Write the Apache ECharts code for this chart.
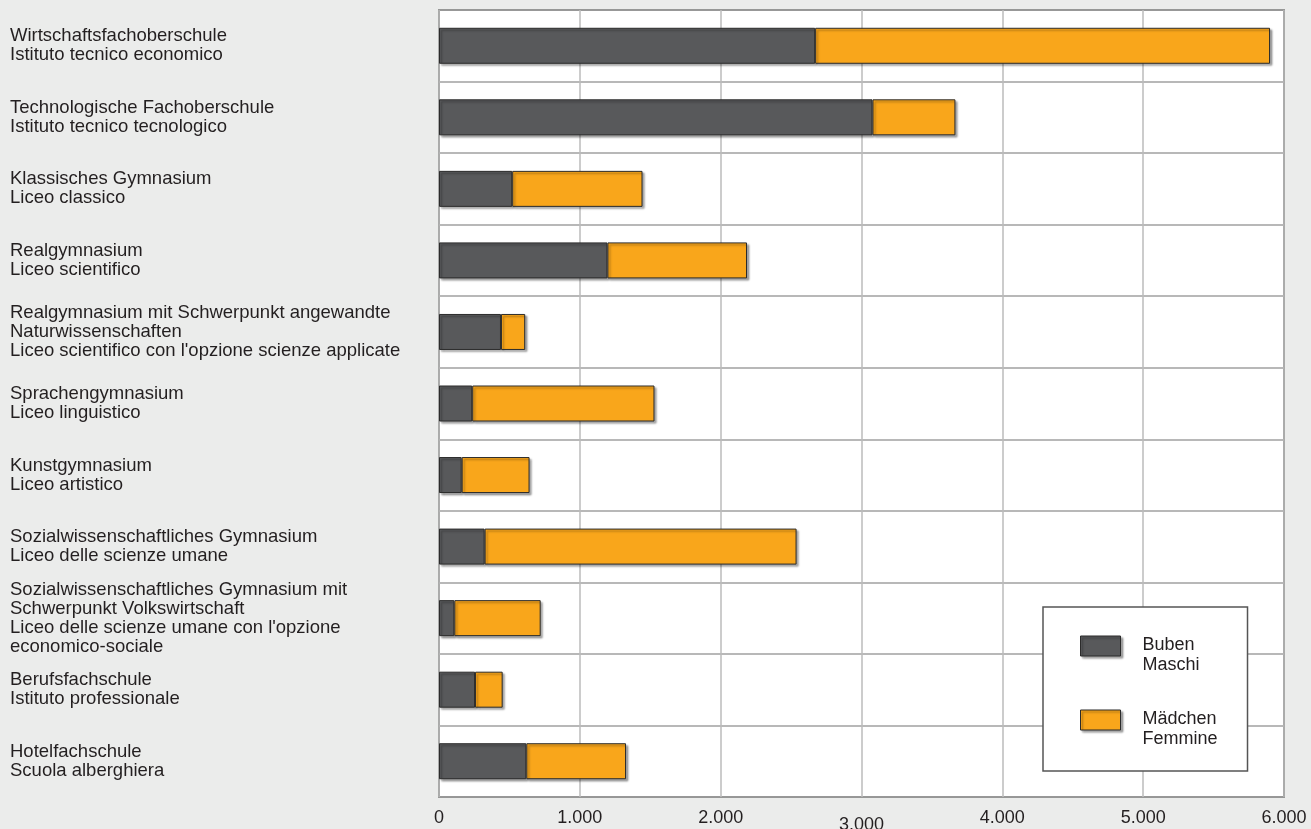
<!DOCTYPE html>
<html>
<head>
<meta charset="utf-8">
<script src="https://cdn.jsdelivr.net/npm/echarts@6/dist/echarts.min.js"></script>
<style>
html,body{margin:0;padding:0;background:#ebeceb;}
#chart{width:1311px;height:829px;}
</style>
</head>
<body>
<div id="chart"></div>
<script>
const categories = [
  "Wirtschaftsfachoberschule\nIstituto tecnico economico",
  "Technologische Fachoberschule\nIstituto tecnico tecnologico",
  "Klassisches Gymnasium\nLiceo classico",
  "Realgymnasium\nLiceo scientifico",
  "Realgymnasium mit Schwerpunkt angewandte\nNaturwissenschaften\nLiceo scientifico con l'opzione scienze applicate",
  "Sprachengymnasium\nLiceo linguistico",
  "Kunstgymnasium\nLiceo artistico",
  "Sozialwissenschaftliches Gymnasium\nLiceo delle scienze umane",
  "Sozialwissenschaftliches Gymnasium mit\nSchwerpunkt Volkswirtschaft\nLiceo delle scienze umane con l'opzione\neconomico-sociale",
  "Berufsfachschule\nIstituto professionale",
  "Hotelfachschule\nScuola alberghiera"
];
const seriesNames = ["Buben\nMaschi", "Mädchen\nFemmine"];
const boys  = [2671, 3078, 520, 1196, 440, 236, 161, 324, 109, 256, 620];
const girls = [3230, 589, 925, 991, 172, 1294, 482, 2215, 613, 196, 708];
const xTicks = [0, 1000, 2000, 3000, 4000, 5000, 6000];

const FONT = "'Liberation Sans', Arial, sans-serif";
const TXT = '#231f20';

const chart = echarts.init(document.getElementById('chart'));
const barStyle = (color) => ({
  color: color,
  borderColor: '#2b2b2b',
  borderWidth: 1,
  shadowColor: 'rgba(0,0,0,0.35)',
  shadowOffsetX: 2,
  shadowOffsetY: 2,
  shadowBlur: 2
});
chart.setOption({
  backgroundColor: '#ebeceb',
  animation: false,
  textStyle: { fontFamily: FONT, color: TXT },
  grid: {
    left: 439, right: 27, top: 10, bottom: 32,
    outerBoundsMode: 'none',
    containLabel: false,
    show: true, backgroundColor: '#ffffff', borderColor: '#555555', borderWidth: 1.5
  },
  legend: {
    orient: 'vertical',
    left: 1043, top: 607,
    data: seriesNames,
    icon: 'rect',
    itemWidth: 40, itemHeight: 20,
    itemGap: 16,
    padding: [10, 30, 22, 37],
    backgroundColor: '#ffffff',
    borderColor: '#555555',
    borderWidth: 1.5,
    formatter: function (name) {
      return '{s| }\n' + name.split('\n').map(function (l) { return '{t|' + l + '}'; }).join('\n');
    },
    textStyle: {
      fontSize: 18, lineHeight: 20, color: TXT, fontFamily: FONT, padding: [0, 0, 0, 17],
      rich: {
        s: { fontSize: 10, lineHeight: 18 },
        t: { fontSize: 18, lineHeight: 20, color: TXT, fontFamily: FONT }
      }
    },
    itemStyle: {
      borderColor: '#2b2b2b', borderWidth: 1,
      shadowColor: 'rgba(0,0,0,0.35)', shadowOffsetX: 2, shadowOffsetY: 2, shadowBlur: 2
    }
  },
  xAxis: {
    type: 'value',
    min: xTicks[0], max: xTicks[xTicks.length - 1], interval: 1000,
    axisLine: { show: false },
    axisTick: { show: false },
    splitLine: { show: true, lineStyle: { color: '#bbbbbb', width: 1.5 } },
    axisLabel: {
      fontSize: 18, color: TXT, fontFamily: FONT, margin: 12,
      formatter: function (v) {
        const s = v === 0 ? '0' : (v / 1000) + '.000';
        return v === 3000 ? '{low|' + s + '}' : s;
      },
      rich: { low: { fontSize: 18, color: TXT, fontFamily: FONT, padding: [7, 0, 0, 0] } }
    }
  },
  yAxis: {
    type: 'category',
    inverse: true,
    data: categories,
    axisLine: { show: false },
    axisTick: { show: false },
    splitLine: { show: true, lineStyle: { color: '#a0a0a0', width: 1.5 } },
    axisLabel: {
      align: 'left', margin: 429, fontSize: 18.5, lineHeight: 19, color: TXT, fontFamily: FONT
    }
  },
  series: [
    { name: seriesNames[0], type: 'bar', stack: 'total', barWidth: 36, data: boys, itemStyle: barStyle('#58595b') },
    { name: seriesNames[1], type: 'bar', stack: 'total', barWidth: 36, data: girls, itemStyle: barStyle('#f9a61b') }
  ]
});
</script>
</body>
</html>
